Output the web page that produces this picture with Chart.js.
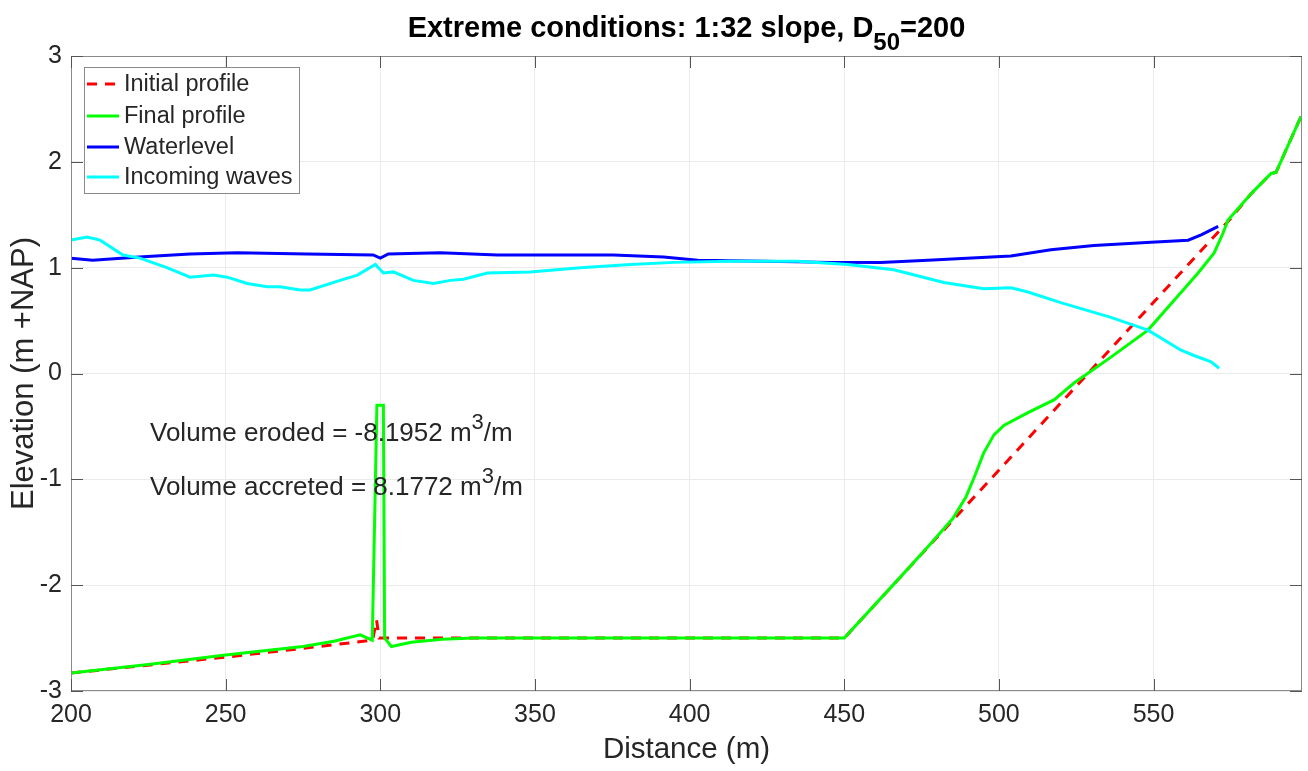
<!DOCTYPE html>
<html>
<head>
<meta charset="utf-8">
<script src="https://cdn.jsdelivr.net/npm/chart.js@4.4.1/dist/chart.umd.min.js"></script>
<style>
  html, body { margin: 0; padding: 0; background: #ffffff; }
  #wrap { width: 1308px; height: 771px; position: relative; }
</style>
</head>
<body>
<div id="wrap"><canvas id="c" width="1308" height="771"></canvas></div>
<script>
// Cross-shore profile data: distance (m) and elevation (m +NAP)
const initialX = [200, 250, 280, 297.5, 298.8, 299.6, 301.5, 450, 574.5, 581.6, 588, 589.6, 597.7];
const initialY = [-2.83, -2.68, -2.58, -2.52, -2.33, -2.50, -2.50, -2.50, 1.45, 1.70, 1.89, 1.90, 2.43];

const finalX = [200, 225, 250, 275, 285, 293.5, 297.4, 298.9, 299.8, 301.0, 301.4, 303.6, 310, 320, 330, 450,
                467.3, 477, 485.1, 489.3, 491.9, 495.1, 498.4, 501.6, 509.4, 517.8, 524.3, 536, 548.2, 556.6,
                564.4, 569.6, 572.5, 574.1, 581.6, 588, 589.6, 597.7];
const finalY = [-2.83, -2.75, -2.66, -2.58, -2.53, -2.47, -2.52, -0.30, -0.30, -0.30, -2.50, -2.58, -2.54, -2.51, -2.50, -2.50,
                -1.95, -1.64, -1.37, -1.17, -0.99, -0.75, -0.58, -0.49, -0.37, -0.25, -0.09, 0.15, 0.41, 0.69,
                0.95, 1.14, 1.33, 1.45, 1.70, 1.89, 1.90, 2.43];

const waterX = [200, 207, 222, 238.5, 253.7, 276.4, 297.7, 300, 302.6, 319.4, 337.9, 375.4, 391.6, 402.6, 424,
                445.6, 461.8, 477, 503.9, 516.8, 530.7, 549.2, 561.2, 565.4, 570.9];
const waterY = [1.09, 1.07, 1.10, 1.13, 1.14, 1.13, 1.12, 1.09, 1.13, 1.14, 1.12, 1.12, 1.10, 1.07, 1.06,
                1.05, 1.05, 1.07, 1.11, 1.17, 1.21, 1.24, 1.26, 1.31, 1.39];

const wavesX = [200, 205.2, 209.4, 216.8, 222.3, 231, 238.5, 246, 250.5, 257, 263.4, 267.6, 274.1, 277.3, 287,
                292.6, 298.4, 301, 304.2, 310.7, 317.2, 322.7, 326.9, 334.6, 348.5, 364.7, 380.9, 394.8, 413.3,
                435, 451.1, 466, 482.2, 495.1, 503.9, 509.4, 520, 536.2, 548.2, 558.9, 563.1, 568.6, 571.2];
const wavesY = [1.26, 1.29, 1.26, 1.12, 1.09, 1.00, 0.91, 0.93, 0.91, 0.85, 0.82, 0.82, 0.79, 0.79, 0.88,
                0.93, 1.03, 0.95, 0.96, 0.88, 0.85, 0.88, 0.89, 0.95, 0.96, 1.00, 1.03, 1.05, 1.06,
                1.06, 1.03, 0.98, 0.86, 0.80, 0.81, 0.77, 0.67, 0.53, 0.41, 0.22, 0.17, 0.11, 0.05];

const xTicks = [200, 250, 300, 350, 400, 450, 500, 550];
const yTicks = [-3, -2, -1, 0, 1, 2, 3];

const seriesNames = ['Initial profile', 'Final profile', 'Waterlevel', 'Incoming waves'];
const seriesColors = ['#ff0000', '#00ff00', '#0000ff', '#00ffff'];

const volumeEroded = -8.1952;
const volumeAccreted = 8.1772;

const FONT = '"Liberation Sans", Arial, Helvetica, sans-serif';
const TEXT = '#262626';

function pts(xs, ys) { return xs.map((x, i) => ({ x: x, y: ys[i] })); }

// Axes frame with inward ticks, legend box, annotations and title
const decorations = {
  id: 'decorations',
  afterDraw(chart) {
    const ctx = chart.ctx;
    const a = chart.chartArea;
    const xs = chart.scales.x, ys = chart.scales.y;
    ctx.save();

    // frame
    ctx.strokeStyle = '#8a8a8a';
    ctx.lineWidth = 1;
    ctx.strokeRect(a.left + 0.5, a.top + 0.5, a.right - a.left - 1, a.bottom - a.top - 1);

    // inward ticks on all four sides
    const TL = 12;
    ctx.strokeStyle = '#555555';
    ctx.beginPath();
    xTicks.forEach(v => {
      const px = Math.round(xs.getPixelForValue(v)) + 0.5;
      ctx.moveTo(px, a.bottom); ctx.lineTo(px, a.bottom - TL);
      ctx.moveTo(px, a.top); ctx.lineTo(px, a.top + TL);
    });
    yTicks.forEach(v => {
      const py = Math.round(ys.getPixelForValue(v)) + 0.5;
      ctx.moveTo(a.left, py); ctx.lineTo(a.left + TL, py);
      ctx.moveTo(a.right, py); ctx.lineTo(a.right - TL, py);
    });
    ctx.stroke();

    // legend
    const lx = 84, ly = 67, lw = 215, lh = 126;
    ctx.fillStyle = '#ffffff';
    ctx.fillRect(lx, ly, lw, lh);
    ctx.strokeStyle = '#8a8a8a';
    ctx.strokeRect(lx + 0.5, ly + 0.5, lw, lh);
    ctx.font = '23.5px ' + FONT;
    ctx.textBaseline = 'middle';
    ctx.textAlign = 'left';
    const rows = [84, 116, 147, 177];
    seriesNames.forEach((name, i) => {
      ctx.strokeStyle = seriesColors[i];
      ctx.lineWidth = 3;
      ctx.setLineDash(i === 0 ? [10, 8] : []);
      ctx.beginPath();
      ctx.moveTo(87, rows[i]); ctx.lineTo(119, rows[i]);
      ctx.stroke();
      ctx.setLineDash([]);
      ctx.fillStyle = TEXT;
      ctx.fillText(name, 124, rows[i] + 1);
    });

    // volume annotations
    ctx.textBaseline = 'alphabetic';
    ctx.fillStyle = TEXT;
    const ann = [['Volume eroded = ' + volumeEroded.toFixed(4) + ' m', 441],
                 ['Volume accreted = ' + volumeAccreted.toFixed(4) + ' m', 495]];
    ann.forEach(([t, by]) => {
      ctx.font = '26px ' + FONT;
      ctx.fillText(t, 150, by);
      let x = 150 + ctx.measureText(t).width;
      ctx.font = '22px ' + FONT;
      ctx.fillText('3', x, by - 12);
      x += ctx.measureText('3').width;
      ctx.font = '26px ' + FONT;
      ctx.fillText('/m', x, by);
    });

    // title with subscript
    ctx.font = 'bold 29px ' + FONT;
    const t1 = 'Extreme conditions: 1:32 slope, D';
    const t2 = '50';
    const t3 = '=200';
    const w1 = ctx.measureText(t1).width;
    ctx.font = 'bold 24px ' + FONT;
    const w2 = ctx.measureText(t2).width;
    ctx.font = 'bold 29px ' + FONT;
    const w3 = ctx.measureText(t3).width;
    const cx = (a.left + a.right) / 2;
    let tx = cx - (w1 + w2 + w3) / 2;
    ctx.fillStyle = '#000000';
    ctx.fillText(t1, tx, 37);
    ctx.font = 'bold 24px ' + FONT;
    ctx.fillText(t2, tx + w1, 50);
    ctx.font = 'bold 29px ' + FONT;
    ctx.fillText(t3, tx + w1 + w2, 37);

    ctx.restore();
  }
};

const chart = new Chart(document.getElementById('c'), {
  type: 'line',
  data: {
    datasets: [
      { label: seriesNames[0], data: pts(initialX, initialY), borderColor: seriesColors[0], borderWidth: 3,
        borderDash: [10, 8], pointRadius: 0, tension: 0, fill: false, order: 4 },
      { label: seriesNames[1], data: pts(finalX, finalY), borderColor: seriesColors[1], borderWidth: 3,
        pointRadius: 0, tension: 0, fill: false, order: 3 },
      { label: seriesNames[2], data: pts(waterX, waterY), borderColor: seriesColors[2], borderWidth: 3,
        pointRadius: 0, tension: 0, fill: false, order: 2 },
      { label: seriesNames[3], data: pts(wavesX, wavesY), borderColor: seriesColors[3], borderWidth: 3,
        pointRadius: 0, tension: 0, fill: false, order: 1 }
    ]
  },
  options: {
    responsive: false,
    animation: false,
    events: [],
    layout: { padding: { left: 0, top: 56, right: 6, bottom: 0 } },
    plugins: { legend: { display: false }, title: { display: false }, tooltip: { enabled: false } },
    scales: {
      x: {
        type: 'linear', min: 200, max: 598,
        afterBuildTicks: s => { s.ticks = xTicks.map(v => ({ value: v })); },
        afterFit: s => { s.height = 80; },
        grid: { color: '#ebebeb', drawTicks: false },
        border: { display: false },
        ticks: { padding: 9, color: TEXT, font: { family: FONT, size: 25 }, maxRotation: 0 },
        title: { display: true, text: 'Distance (m)', color: TEXT, font: { family: FONT, size: 29.5 },
                 padding: { top: 0, bottom: 3 } }
      },
      y: {
        type: 'linear', min: -3, max: 3,
        afterBuildTicks: s => { s.ticks = yTicks.map(v => ({ value: v })); },
        afterFit: s => { s.width = 71; },
        grid: { color: '#ebebeb', drawTicks: false },
        border: { display: false },
        ticks: { padding: 9, color: TEXT, font: { family: FONT, size: 25 } },
        title: { display: true, text: 'Elevation (m +NAP)', color: TEXT, font: { family: FONT, size: 31 },
                 padding: { top: 6, bottom: 0 } }
      }
    }
  },
  plugins: [decorations]
});
</script>
</body>
</html>
